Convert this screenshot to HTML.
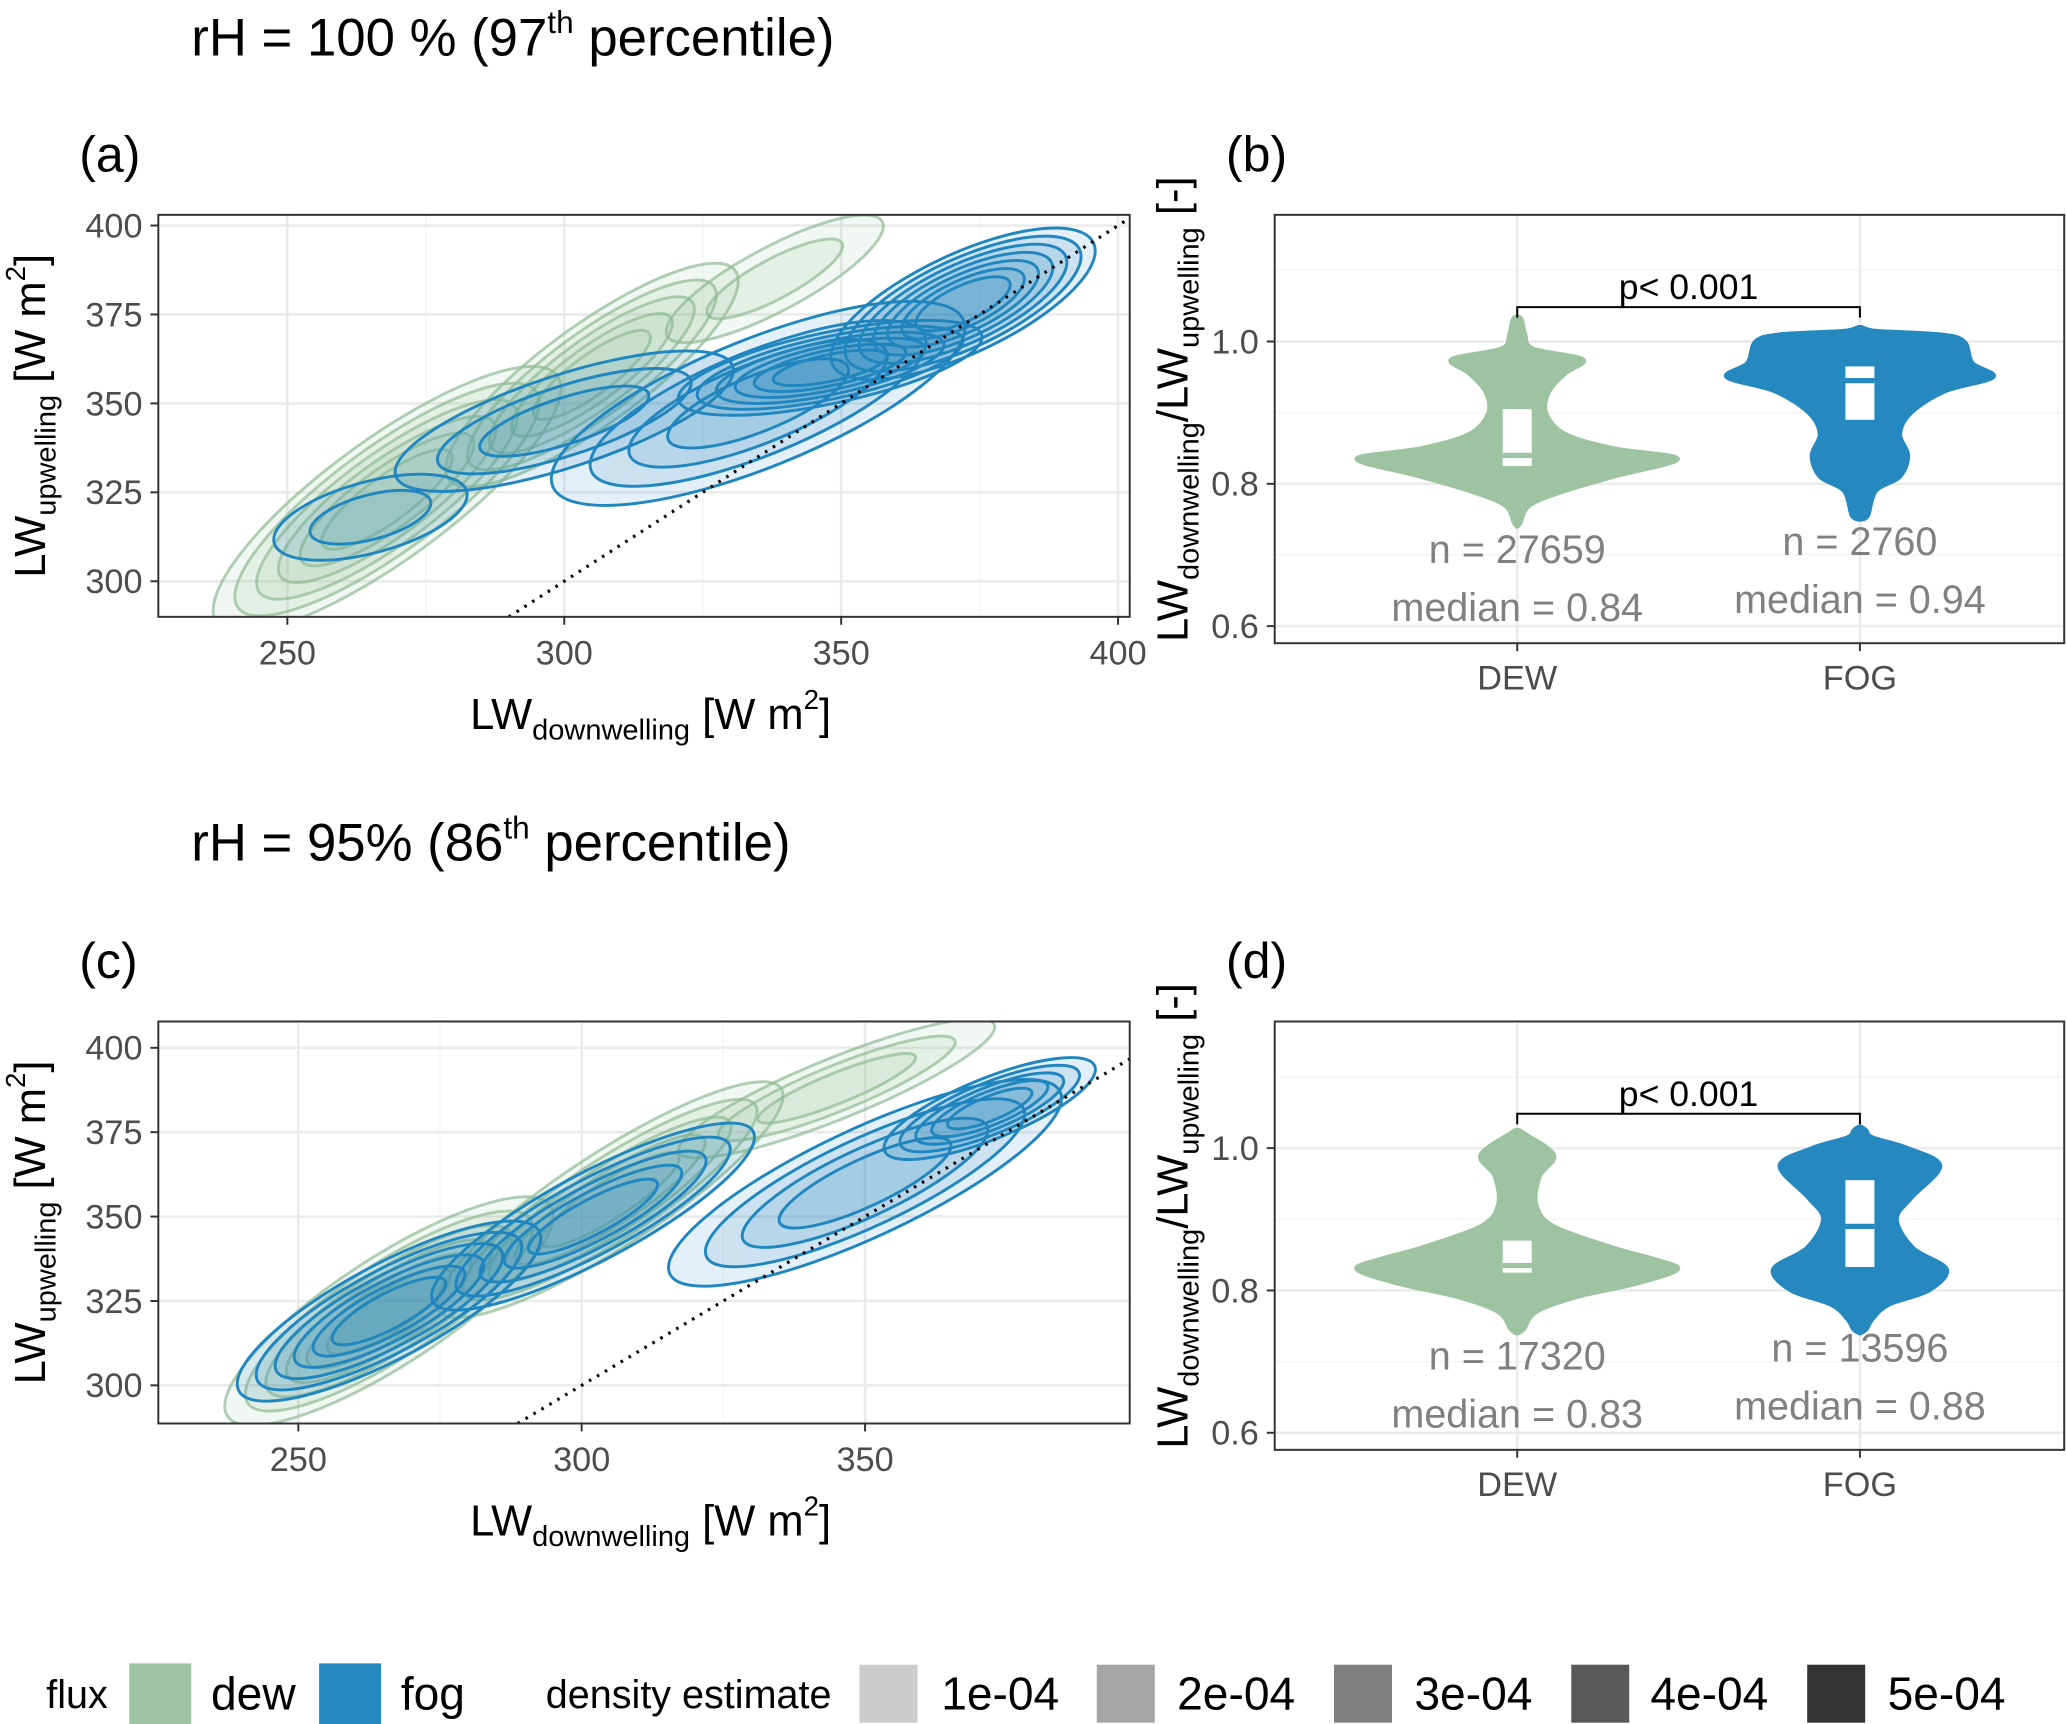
<!DOCTYPE html>
<html><head><meta charset="utf-8"><style>
html,body{margin:0;padding:0;background:#fff}
svg{display:block;font-family:"Liberation Sans",sans-serif}
</style></head><body>
<svg id="fig" width="2067" height="1724" viewBox="0 0 1568 1308" xmlns="http://www.w3.org/2000/svg">
<defs>
<clipPath id="clipA"><rect x="120" y="163" width="737" height="305"/></clipPath>
<clipPath id="clipC"><rect x="120" y="775" width="737" height="305"/></clipPath>
</defs>
<g id="root"></g>
<text x="145" y="42" font-size="40">rH = 100 % (97<tspan font-size="24" dy="-17">th</tspan><tspan dy="17"> percentile)</tspan></text>
<text x="145" y="653" font-size="40">rH = 95% (86<tspan font-size="24" dy="-17">th</tspan><tspan dy="17"> percentile)</tspan></text>
<text x="60" y="130" font-size="38">(a)</text>
<text x="930" y="130" font-size="38">(b)</text>
<text x="60" y="742" font-size="38">(c)</text>
<text x="930" y="742" font-size="38">(d)</text>
<g font-size="35">
<text x="35" y="1296" font-size="30">flux</text>
<rect x="98" y="1262" width="47" height="46" fill="#9dc3a0"/>
<text x="160" y="1297">dew</text>
<rect x="242" y="1262" width="47" height="46" fill="#2589bf"/>
<text x="304" y="1297">fog</text>
<text x="414" y="1296" font-size="30">density estimate</text>
<rect x="652" y="1263" width="44" height="44" fill="#cccccc"/><text x="714" y="1297">1e-04</text>
<rect x="832" y="1263" width="44" height="44" fill="#a5a5a5"/><text x="893" y="1297">2e-04</text>
<rect x="1012" y="1263" width="44" height="44" fill="#7f7f7f"/><text x="1073" y="1297">3e-04</text>
<rect x="1192" y="1263" width="44" height="44" fill="#595959"/><text x="1252" y="1297">4e-04</text>
<rect x="1371" y="1263" width="44" height="44" fill="#333333"/><text x="1432" y="1297">5e-04</text>
</g>
</svg>
<script>
// ---------- data ----------
const xTicksA = [250,300,350,400];
const xTicksC = [250,300,350];
const yTicksLW = [300,325,350,375,400];
// blobs: [cx, cy, semi-major (x units), semi-minor (y units), orientation deg, levels]
const dewBlobsA = [[268,323,38,17,36,6],[305,358,32,14,36,5],[338,385,22,9,28,2]];
const fogBlobsA = [[265,318,18,10,15,2],[300,345,32,13,18,3],[335,350,40,18,22,4],[348,360,28,10,12,6],[372,378,26,14,25,7]];
const dewBlobsC = [[266,322,34,16,33,6],[305,355,36,14,33,5],[345,388,30,9,22,3]];
const fogBlobsC = [[266,322,30,14,28,6],[302,350,32,13,28,5],[350,360,38,16,25,4],[372,382,20,9,22,5]];
const ratioTicks = [0.6,0.8,1.0];
const groups = ["DEW","FOG"];
// violin profiles [y, half-width relative 0..1]
const dewViolinB = [[0.745,0.02],[0.77,0.08],[0.79,0.3],[0.81,0.6],[0.835,1],[0.85,0.6],[0.87,0.3],[0.90,0.18],[0.93,0.2],[0.955,0.3],[0.975,0.41],[0.99,0.1],[1.01,0.05],[1.03,0.03]];
const fogViolinB = [[0.755,0.05],[0.79,0.1],[0.81,0.25],[0.84,0.3],[0.87,0.25],[0.90,0.32],[0.93,0.53],[0.95,0.83],[0.97,0.7],[1.0,0.65],[1.01,0.5],[1.015,0.1]];
const dewViolinD = [[0.745,0.04],[0.77,0.12],[0.79,0.36],[0.81,0.75],[0.83,1],[0.845,0.84],[0.86,0.6],[0.89,0.23],[0.92,0.12],[0.96,0.14],[0.99,0.23],[1.02,0.05]];
const fogViolinD = [[0.745,0.04],[0.76,0.08],[0.78,0.18],[0.80,0.43],[0.83,0.54],[0.86,0.33],[0.90,0.23],[0.93,0.32],[0.975,0.5],[1.0,0.3],[1.015,0.08],[1.025,0.04]];
const boxB = [[0.825,0.84,0.905],[0.89,0.945,0.965]];
const boxD = [[0.825,0.835,0.87],[0.833,0.89,0.955]];
const countsB = [27659,2760], mediansB = ["0.84","0.94"];
const countsD = [17320,13596], mediansD = ["0.83","0.88"];

// ---------- helpers ----------
const NS="http://www.w3.org/2000/svg";
const root=document.getElementById('root');
function mk(tag,attrs,parent){const e=document.createElementNS(NS,tag);for(const k in attrs)e.setAttribute(k,attrs[k]);(parent||root).appendChild(e);return e;}
function lin(d0,d1,r0,r1){return v=>r0+(v-d0)/(d1-d0)*(r1-r0);}
function smooth(pts){
  let d='M'+pts[0][0]+','+pts[0][1];
  for(let i=0;i<pts.length-1;i++){
    const p0=pts[Math.max(0,i-1)],p1=pts[i],p2=pts[i+1],p3=pts[Math.min(pts.length-1,i+2)];
    const c1=[p1[0]+(p2[0]-p0[0])/6,p1[1]+(p2[1]-p0[1])/6];
    const c2=[p2[0]-(p3[0]-p1[0])/6,p2[1]-(p3[1]-p1[1])/6];
    d+=`C${c1[0]},${c1[1]} ${c2[0]},${c2[1]} ${p2[0]},${p2[1]}`;
  }
  return d;
}

function scatterPanel(key,box,xd,yd,xTicks,dew,fog,clipId){
  const [L,T,W,H]=box;
  const x=lin(xd[0],xd[1],L,L+W), y=lin(yd[0],yd[1],T+H,T);
  const g=mk('g',{});
  
  
  mk('rect',{x:L,y:T,width:W,height:H,fill:'#fff'},g);
  const minor=[];
  for(let i=0;i<xTicks.length-1;i++)minor.push((xTicks[i]+xTicks[i+1])/2);
  minor.forEach(v=>mk('line',{x1:x(v),x2:x(v),y1:T,y2:T+H,stroke:'#f4f4f4','stroke-width':1},g));
  xTicks.forEach(v=>mk('line',{x1:x(v),x2:x(v),y1:T,y2:T+H,stroke:'#ebebeb','stroke-width':2},g));
  yTicksLW.forEach(v=>mk('line',{x1:L,x2:L+W,y1:y(v),y2:y(v),stroke:'#ebebeb','stroke-width':2},g));
  const cg=mk('g',{'clip-path':'url(#'+clipId+')'},g);
  function drawBlobs(blobs,color,name){
    blobs.forEach(b=>{
      const [cx,cy,a,bb,ang,n]=b;
      const rx=a*(x(1)-x(0)), ry=bb*(y(0)-y(1));
      for(let k=0;k<n;k++){
        const s=1-k/n*0.75;
        const e=mk('ellipse',{cx:x(cx),cy:y(cy),rx:rx*s,ry:ry*s,transform:`rotate(${-ang} ${x(cx)} ${y(cy)})`,fill:color,'fill-opacity':0.12,stroke:color,'stroke-width':2.2,'stroke-opacity':name==='dew'?0.7:1},cg);
        
        
      }
    });
  }
  drawBlobs(dew,'#8fbb93','dew');
  drawBlobs(fog,'#1f86c0','fog');
  const lo=Math.max(xd[0],yd[0]), hi=Math.min(xd[1],yd[1]);
  const dl=mk('line',{x1:x(lo),y1:y(lo),x2:x(hi),y2:y(hi),stroke:'#000','stroke-width':2.4,'stroke-dasharray':'2 5'},cg);
  
  
  mk('rect',{x:L,y:T,width:W,height:H,fill:'none',stroke:'#333','stroke-width':1.5},g);
  xTicks.forEach(v=>{mk('line',{x1:x(v),x2:x(v),y1:T+H,y2:T+H+6,stroke:'#333','stroke-width':1.5},g);
    const t=mk('text',{x:x(v),y:T+H+36,'font-size':26,fill:'#4d4d4d','text-anchor':'middle'},g);t.textContent=v;
    });
  yTicksLW.forEach(v=>{mk('line',{x1:L-6,x2:L,y1:y(v),y2:y(v),stroke:'#333','stroke-width':1.5},g);
    const t=mk('text',{x:L-12,y:y(v)+9,'font-size':26,fill:'#4d4d4d','text-anchor':'end'},g);t.textContent=v;
    });
  const xt=mk('text',{x:L+W/2+5,y:T+H+85,'font-size':33,'text-anchor':'middle'},g);
  xt.innerHTML='LW<tspan font-size="22" dy="8">downwelling</tspan><tspan dy="-8"> [W m</tspan><tspan font-size="21" dy="-15">2</tspan><tspan dy="15">]</tspan>';
  
  const yt=mk('text',{x:0,y:0,'font-size':33,'text-anchor':'middle',transform:`translate(${L-86},${T+H/2}) rotate(-90)`},g);
  yt.innerHTML='LW<tspan font-size="22" dy="8">upwelling</tspan><tspan dy="-8"> [W m</tspan><tspan font-size="21" dy="-15">2</tspan><tspan dy="15">]</tspan>';
  
}

function violinPanel(key,box,yd,violins,boxes,counts,medians){
  const [L,T,W,H]=box;
  const y=lin(yd[0],yd[1],T+H,T);
  const xc=[L+184,L+444];
  const g=mk('g',{});
  
  
  [0.7,0.9,1.1].forEach(v=>mk('line',{x1:L,x2:L+W,y1:y(v),y2:y(v),stroke:'#f4f4f4','stroke-width':1},g));
  ratioTicks.forEach(v=>mk('line',{x1:L,x2:L+W,y1:y(v),y2:y(v),stroke:'#ebebeb','stroke-width':2},g));
  xc.forEach(c=>mk('line',{x1:c,x2:c,y1:T,y2:T+H,stroke:'#ebebeb','stroke-width':2},g));
  const cols=['#9dc3a0','#2589bf'];
  const mw=122;
  violins.forEach((prof,i)=>{
    const right=prof.map(p=>[xc[i]+p[1]*mw,y(p[0])]);
    const left=prof.slice().reverse().map(p=>[xc[i]-p[1]*mw,y(p[0])]);
    const pts=[[xc[i],y(prof[0][0])+3]].concat(right,[[xc[i],y(prof[prof.length-1][0])-3]],left,[[xc[i],y(prof[0][0])+3]]);
    const p=mk('path',{d:smooth(pts)+'Z',fill:cols[i],stroke:cols[i],'stroke-width':3,'stroke-linejoin':'round'},g);
    
    
    const b=boxes[i];
    const r=mk('rect',{x:xc[i]-11,y:y(b[2]),width:22,height:y(b[0])-y(b[2]),fill:'#fff'},g);
    
    
    mk('line',{x1:xc[i]-11,x2:xc[i]+11,y1:y(b[1]),y2:y(b[1]),stroke:cols[i],'stroke-width':4},g);
    const t1=mk('text',{x:xc[i],y:i===0?T+264:T+258,'font-size':30,fill:'#808080','text-anchor':'middle'},g);
    t1.textContent='n = '+counts[i];
    
    const t2=mk('text',{x:xc[i],y:i===0?T+308:T+302,'font-size':30,fill:'#808080','text-anchor':'middle'},g);
    t2.textContent='median = '+medians[i];
    
  });
  mk('rect',{x:L,y:T,width:W,height:H,fill:'none',stroke:'#333','stroke-width':1.5},g);
  const by=T+70;
  mk('path',{d:`M${xc[0]},${by+8}V${by}H${xc[1]}V${by+8}`,fill:'none',stroke:'#000','stroke-width':1.5},g);
  const pt=mk('text',{x:(xc[0]+xc[1])/2,y:by-6,'font-size':27,'text-anchor':'middle'},g);
  pt.textContent='p< 0.001';
  ratioTicks.forEach(v=>{mk('line',{x1:L-6,x2:L,y1:y(v),y2:y(v),stroke:'#333','stroke-width':1.5},g);
    const t=mk('text',{x:L-12,y:y(v)+9,'font-size':26,fill:'#4d4d4d','text-anchor':'end'},g);t.textContent=v.toFixed(1);
    });
  groups.forEach((gname,i)=>{mk('line',{x1:xc[i],x2:xc[i],y1:T+H,y2:T+H+6,stroke:'#333','stroke-width':1.5},g);
    const t=mk('text',{x:xc[i],y:T+H+35,'font-size':26,fill:'#4d4d4d','text-anchor':'middle'},g);t.textContent=gname;
    });
  const yt=mk('text',{x:0,y:0,'font-size':33,'text-anchor':'middle',transform:`translate(${L-66},${T+H/2-15}) rotate(-90)`},g);
  yt.innerHTML='LW<tspan font-size="22" dy="8">downwelling</tspan><tspan dy="-8">/LW</tspan><tspan font-size="22" dy="8">upwelling</tspan><tspan dy="-8"> [-]</tspan>';
  
}

scatterPanel('a',[120,163,737,305],[226.7,402.1],[290,403],xTicksA,dewBlobsA,fogBlobsA,'clipA');
scatterPanel('c',[120,775,737,305],[225.3,396.7],[288.7,407.8],xTicksC,dewBlobsC,fogBlobsC,'clipC');
violinPanel('b',[967,163,599,325],[0.576,1.178],[dewViolinB,fogViolinB],boxB,countsB,mediansB);
violinPanel('d',[967,775,599,325],[0.576,1.178],[dewViolinD,fogViolinD],boxD,countsD,mediansD);
</script>
</body></html>
